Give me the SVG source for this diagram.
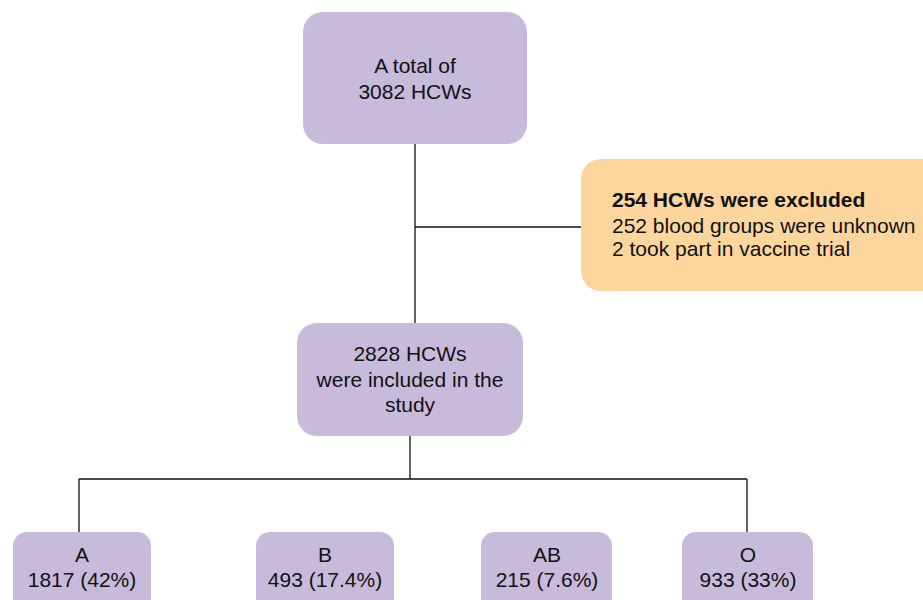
<svg xmlns="http://www.w3.org/2000/svg" width="923" height="600" viewBox="0 0 923 600">
<style>
.p{fill:#c8badb}
.o{fill:#fdd69e}
text{font-family:"Liberation Sans",Arial,sans-serif;font-size:21px;fill:#111}
.c{text-anchor:middle}
.b{font-weight:bold}
.ln{stroke:#111;stroke-width:1.3;fill:none}
</style>
<rect width="923" height="600" fill="#fff"/>
<g id="connectors">
<path class="ln" d="M415 144V323M415 227H581M410 436V479M79 479H747M79 479V532M747 479V532"/>
</g>
<g id="total">
<rect class="p" x="303" y="12" width="224" height="132" rx="20"/>
<text class="c" x="415" y="73">A total of</text>
<text class="c" x="415" y="99">3082 HCWs</text>
</g>
<g id="excluded">
<rect class="o" x="581" y="159" width="362" height="132" rx="20"/>
<text class="b" x="612" y="207">254 HCWs were excluded</text>
<text x="612" y="233">252 blood groups were unknown</text>
<text x="612" y="256">2 took part in vaccine trial</text>
</g>
<g id="included">
<rect class="p" x="297" y="323" width="226" height="113" rx="20"/>
<text class="c" x="410" y="361">2828 HCWs</text>
<text class="c" x="410" y="387">were included in the</text>
<text class="c" x="410" y="412">study</text>
</g>
<g id="groupA">
<rect class="p" x="13" y="532" width="138" height="90" rx="14"/>
<text class="c" x="82" y="562">A</text>
<text class="c" x="82" y="587">1817 (42%)</text>
</g>
<g id="groupB">
<rect class="p" x="256" y="532" width="138" height="90" rx="14"/>
<text class="c" x="325" y="562">B</text>
<text class="c" x="325" y="587">493 (17.4%)</text>
</g>
<g id="groupAB">
<rect class="p" x="481" y="532" width="131" height="90" rx="14"/>
<text class="c" x="547" y="562">AB</text>
<text class="c" x="547" y="587">215 (7.6%)</text>
</g>
<g id="groupO">
<rect class="p" x="682" y="532" width="131" height="90" rx="14"/>
<text class="c" x="748" y="562">O</text>
<text class="c" x="748" y="587">933 (33%)</text>
</g>
</svg>
